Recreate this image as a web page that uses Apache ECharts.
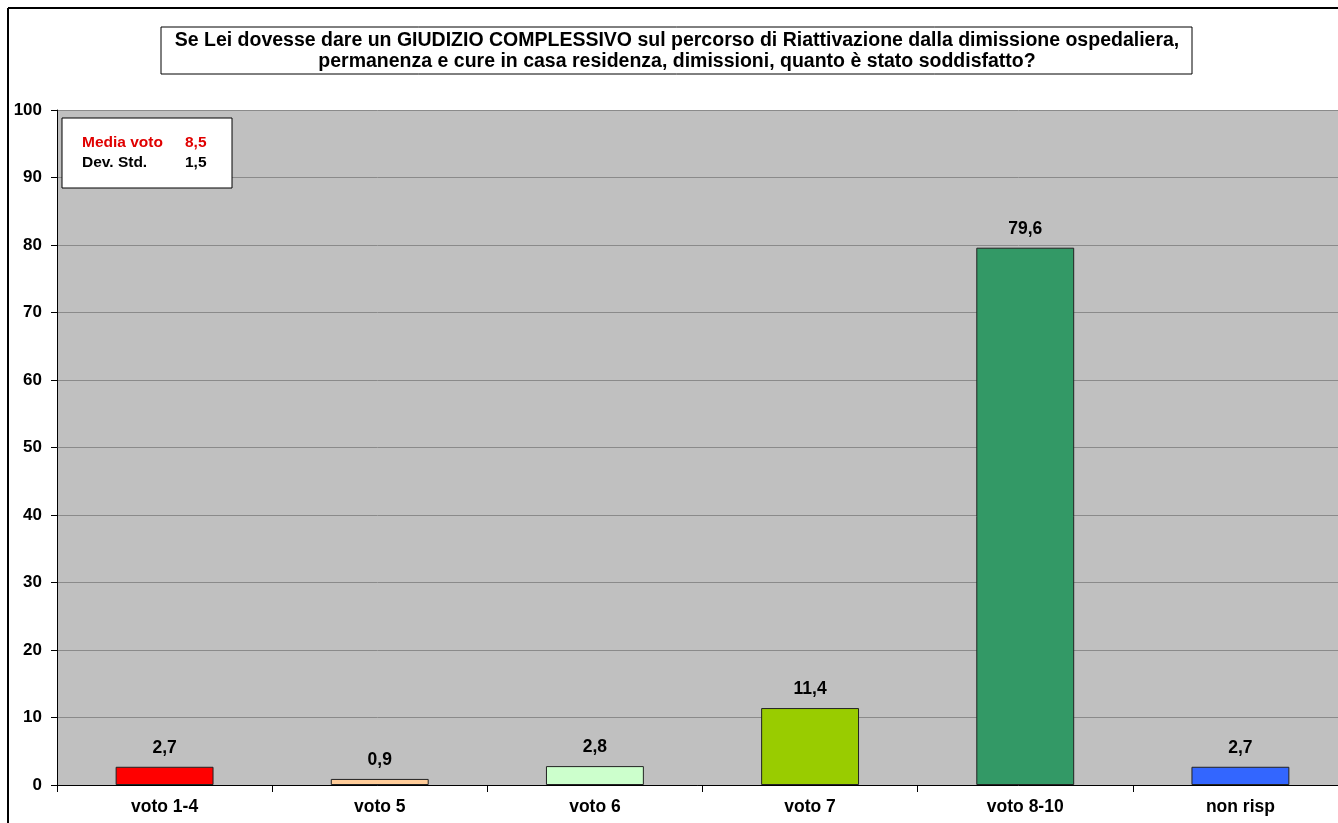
<!DOCTYPE html>
<html>
<head>
<meta charset="utf-8">
<script src="https://cdn.jsdelivr.net/npm/echarts@6/dist/echarts.min.js"></script>
<style>
  html, body { margin: 0; padding: 0; background: #fff; }
  #chart { width: 1338px; height: 823px; }
</style>
</head>
<body>
<div id="chart"></div>
<script>
const categories = ['voto 1-4', 'voto 5', 'voto 6', 'voto 7', 'voto 8-10', 'non risp']
const values = [2.7, 0.9, 2.8, 11.4, 79.6, 2.7]
const barColors = ['#ff0000', '#ffcc99', '#ccffcc', '#99cc00', '#339966', '#3366ff']
const titleLines = [
  'Se Lei dovesse dare un GIUDIZIO COMPLESSIVO sul percorso di Riattivazione dalla dimissione ospedaliera,',
  'permanenza e cure in casa residenza, dimissioni, quanto è stato soddisfatto?'
]
const statLabels = ['Media voto', 'Dev. Std.']
const statValues = ['8,5', '1,5']

const font = 'Liberation Sans, Arial, sans-serif'

const myChart = echarts.init(document.getElementById('chart'))

const option = {
  backgroundColor: '#ffffff',
  animation: false,
  grid: {
    left: 57,
    top: 110,
    width: 1291,
    height: 675,
    outerBoundsMode: 'none',
    containLabel: false,
    show: true,
    backgroundColor: '#c0c0c0',
    borderWidth: 0
  },
  xAxis: {
    type: 'category',
    data: categories,
    axisLine: { lineStyle: { color: '#000', width: 1 } },
    axisTick: { show: true, length: 7, lineStyle: { color: '#000' } },
    axisLabel: {
      color: '#000',
      fontFamily: font,
      fontWeight: 'bold',
      fontSize: 17.5,
      margin: 13
    }
  },
  yAxis: {
    type: 'value',
    min: 0,
    max: 100,
    interval: 10,
    axisLine: { show: true, lineStyle: { color: '#000', width: 1 } },
    axisTick: { show: true, length: 6, lineStyle: { color: '#000' } },
    axisLabel: {
      color: '#000',
      fontFamily: font,
      fontWeight: 'bold',
      fontSize: 17,
      margin: 15
    },
    splitLine: { lineStyle: { color: '#8a8a8a', width: 1 } }
  },
  series: [{
    type: 'bar',
    barWidth: '45.5%',
    data: values.map((v, i) => ({
      value: v,
      itemStyle: { color: barColors[i], borderColor: '#222', borderWidth: 1 }
    })),
    label: {
      show: true,
      position: 'top',
      distance: 10,
      color: '#000',
      fontFamily: font,
      fontWeight: 'bold',
      fontSize: 17.5,
      formatter: (p) => String(p.value).replace('.', ',')
    }
  }],
  graphic: [
    // cornice esterna
    { type: 'line', shape: { x1: 8, y1: 8, x2: 1338, y2: 8 }, style: { stroke: '#000', lineWidth: 2 } },
    { type: 'line', shape: { x1: 8, y1: 8, x2: 8, y2: 823 }, style: { stroke: '#000', lineWidth: 2 } },
    // titolo
    {
      type: 'rect',
      shape: { x: 161, y: 27, width: 1031, height: 47 },
      style: { fill: '#fff', stroke: '#000', lineWidth: 1 }
    },
    {
      type: 'text',
      x: 677,
      y: 30,
      style: {
        text: titleLines.join('\n'),
        align: 'center',
        fill: '#000',
        font: 'bold 19.5px ' + font,
        lineHeight: 21
      }
    },
    // media e deviazione
    {
      type: 'rect',
      z: 10,
      shape: { x: 62, y: 118, width: 170, height: 70 },
      style: { fill: '#fff', stroke: '#000', lineWidth: 1 }
    },
    {
      type: 'text', z: 11, x: 82, y: 135,
      style: { text: statLabels[0], fill: '#e00000', font: 'bold 15.5px ' + font }
    },
    {
      type: 'text', z: 11, x: 185, y: 135,
      style: { text: statValues[0], fill: '#e00000', font: 'bold 15.5px ' + font }
    },
    {
      type: 'text', z: 11, x: 82, y: 155,
      style: { text: statLabels[1], fill: '#000', font: 'bold 15.5px ' + font }
    },
    {
      type: 'text', z: 11, x: 185, y: 155,
      style: { text: statValues[1], fill: '#000', font: 'bold 15.5px ' + font }
    }
  ]
}

myChart.setOption(option)
</script>
</body>
</html>
